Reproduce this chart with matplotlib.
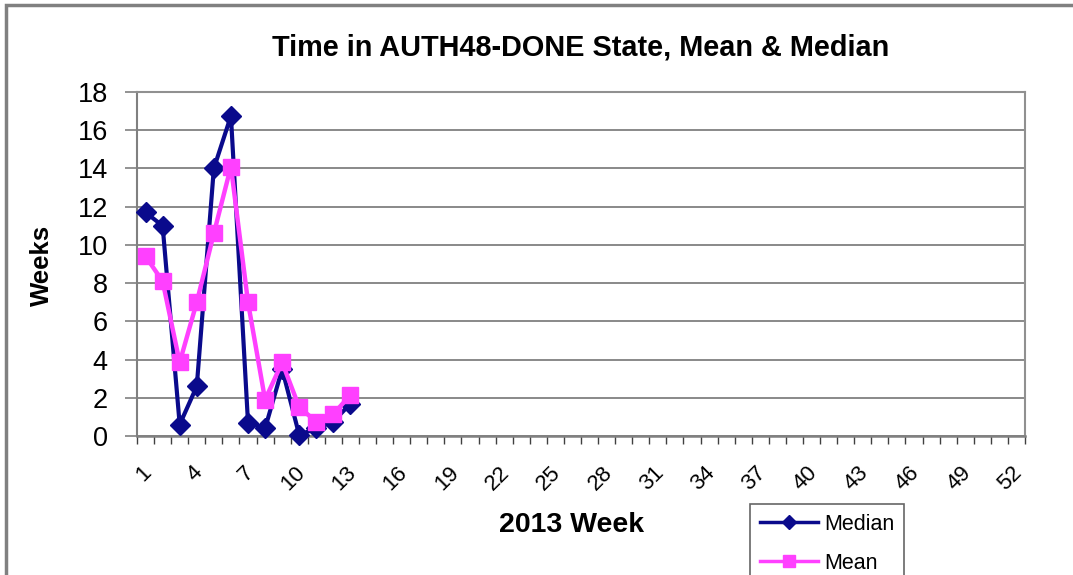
import numpy as np
import matplotlib.pyplot as plt
import matplotlib.transforms as mtransforms
from matplotlib.patches import Rectangle
from matplotlib.lines import Line2D

plt.rcParams['font.family'] = ['Liberation Sans', 'DejaVu Sans']

# data
weeks = list(range(1, 14))
median = [11.7, 11.0, 0.6, 2.6, 14.0, 16.75, 0.7, 0.4, 3.5, 0.05, 0.4, 0.75, 1.7]
mean = [9.4, 8.1, 3.85, 7.0, 10.6, 14.1, 7.0, 1.9, 3.85, 1.5, 0.75, 1.15, 2.15]
n_weeks = 52
label_weeks = list(range(1, 53, 3))
y_ticks = list(range(0, 19, 2))

W, H = 1073, 575
fig = plt.figure(figsize=(W / 100, H / 100), dpi=100)
ax = fig.add_axes([137 / W, 1 - 436 / H, (1025 - 137) / W, (436 - 92) / H])

# outer chart frame (cut off right/bottom in original)
fig.patches.append(Rectangle((6 / W, -0.1), 1.2, 1 - 5 / H + 0.1, transform=fig.transFigure,
                             fill=False, edgecolor='#808080', linewidth=2.5))

median_color = '#0A0A8C'
mean_color = '#FF40FF'

ax.plot(weeks, median, color=median_color, lw=3.0, marker='D', ms=10, zorder=3, clip_on=False)
ax.plot(weeks, mean, color=mean_color, lw=3.2, marker='s', ms=12, zorder=4, clip_on=False)

ax.set_xlim(0.5, n_weeks + 0.5)
ax.set_ylim(0, 18)
ax.set_yticks(y_ticks)
ax.tick_params(axis='y', labelsize=19.5, length=9, color='#808080', width=1.2, pad=12)
ax.yaxis.grid(True, color='#808080', lw=1.3)
ax.set_axisbelow(True)

# tick marks at category boundaries, labels (every 3rd week) at centres
ax.set_xticks(np.arange(0.5, n_weeks + 1, 1))
ax.set_xticklabels([])
ax.tick_params(axis='x', length=6, color='#404040', width=1.0)
shift = mtransforms.ScaledTranslation(10 / 100, -26 / 100, fig.dpi_scale_trans)
for w in label_weeks:
    ax.text(w, 0, str(w), transform=ax.get_xaxis_transform() + shift,
            rotation=45, fontsize=16, ha='right', va='top')

for s in ['top', 'right']:
    ax.spines[s].set_color('#909090')
    ax.spines[s].set_linewidth(1.5)
ax.spines['left'].set_color('#808080')
ax.spines['left'].set_linewidth(1.5)
ax.spines['bottom'].set_color('#808080')
ax.spines['bottom'].set_linewidth(1.8)

fig.text(42 / W, 1 - 265 / H, 'Weeks', fontsize=18.5, fontweight='bold',
         rotation=90, ha='center', va='center')
fig.text(572 / W, 1 - 525 / H, '2013 Week', fontsize=20.5, fontweight='bold',
         ha='center', va='center')
fig.text(581 / W, 1 - 48 / H, 'Time in AUTH48-DONE State, Mean & Median',
         fontsize=20.8, fontweight='bold', ha='center', va='center')

handles = [Line2D([], [], color=median_color, lw=2.5, marker='D', ms=7),
           Line2D([], [], color=mean_color, lw=2.5, marker='s', ms=8)]
leg = fig.legend(handles, ['Median', 'Mean'], loc='upper left',
                 bbox_to_anchor=(750 / W, 1 - 504 / H), fontsize=15.5,
                 frameon=True, fancybox=False, handlelength=2.7, handletextpad=0.3,
                 labelspacing=0.85, borderpad=0.45, borderaxespad=0)
leg.get_frame().set_edgecolor('#404040')
leg.get_frame().set_linewidth(1.2)

fig.savefig('out.png', dpi=100)
